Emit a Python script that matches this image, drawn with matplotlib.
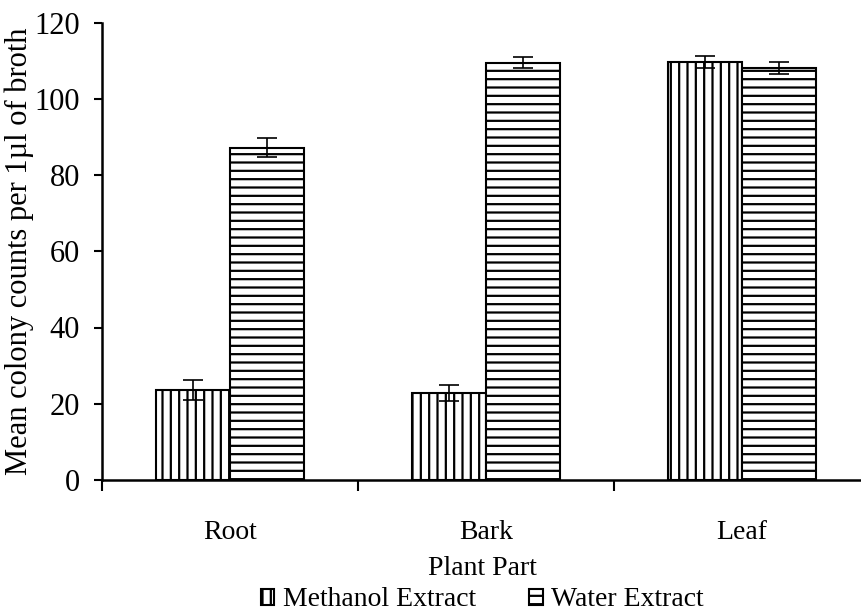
import matplotlib.pyplot as plt
import numpy as np

parts = ["Root", "Bark", "Leaf"]
methanol = [23.6, 22.8, 109.6]
methanol_err = [2.5, 2.0, 1.5]
water = [87.2, 109.5, 108.1]
water_err = [2.6, 1.5, 1.5]

plt.rcParams['font.family'] = ['Liberation Serif', 'DejaVu Serif']
plt.rcParams['hatch.linewidth'] = 1.6
plt.rcParams['hatch.color'] = 'black'

fig = plt.figure(figsize=(8.62, 6.12), dpi=100)
ax = fig.add_axes([102 / 862, 132 / 612, 760 / 862, 457.5 / 612])

x = np.arange(len(parts))
w = 0.29
ax.bar(x - w / 2, methanol, w, color='white', edgecolor='black', linewidth=1.5,
       hatch='||', label='Methanol Extract')
ax.bar(x + w / 2, water, w, color='white', edgecolor='black', linewidth=1.5,
       hatch='--', label='Water Extract')
ax.errorbar(x - w / 2, methanol, yerr=methanol_err, fmt='none', ecolor='black',
            elinewidth=1.2, capsize=7.5, capthick=1.2)
ax.errorbar(x + w / 2, water, yerr=water_err, fmt='none', ecolor='black',
            elinewidth=1.2, capsize=7.5, capthick=1.2)

ax.set_xlim(-0.5, -0.5 + 760 / 256)
ax.set_ylim(0, 120)
ax.set_yticks(range(0, 121, 20))
ax.set_xticks(x)
ax.set_xticklabels(parts)
ax.set_xticks([-0.5, 0.5, 1.5], minor=True)
ax.tick_params(axis='x', which='major', length=0, pad=29, labelsize=20)
ax.tick_params(axis='x', which='minor', length=8, width=1.5, direction='out')
ax.tick_params(axis='y', length=6, width=1.5, direction='out', labelsize=22, pad=10)

for s in ['top', 'right']:
    ax.spines[s].set_visible(False)
for s in ['left', 'bottom']:
    ax.spines[s].set_linewidth(1.8)

ax.set_ylabel('Mean colony counts per 1µl of broth', fontsize=22, labelpad=0)
ax.set_xlabel('Plant Part', fontsize=20, labelpad=8)

fig.legend(loc='center', bbox_to_anchor=(482 / 862, 1 - 600 / 612), ncol=2,
           frameon=False, fontsize=20, handlelength=0.5, handleheight=0.5,
           handletextpad=0.3, columnspacing=1.9, borderpad=0)

fig.savefig('out.png', dpi=100)
